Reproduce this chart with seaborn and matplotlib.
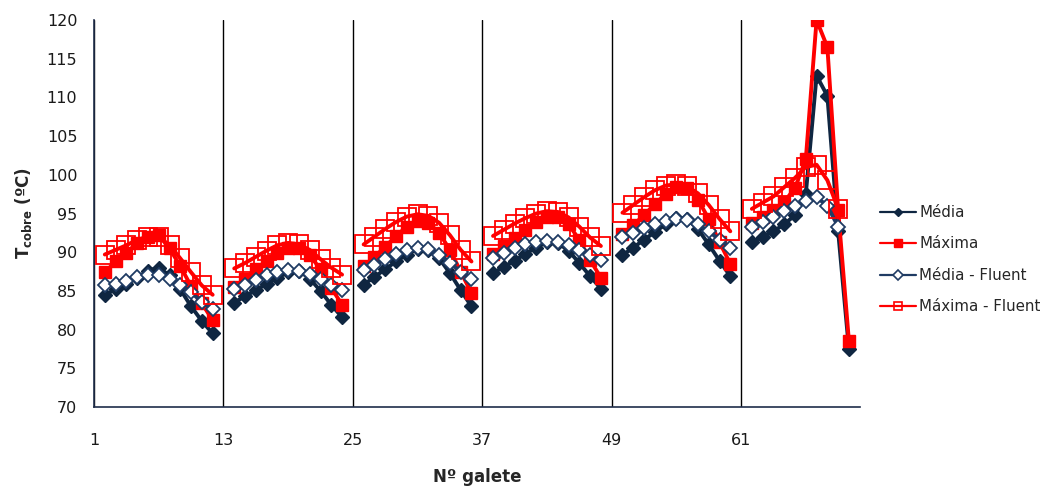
import matplotlib
matplotlib.use("Agg")
import matplotlib.pyplot as plt
from matplotlib.lines import Line2D
import pandas as pd
import seaborn as sns

# galete positions (each group of 12 galetes)
galete_exp = (list(range(2, 13)) + list(range(14, 25)) + list(range(26, 37))
              + list(range(38, 49)) + list(range(50, 61)) + list(range(62, 72)))
galete_fluent = (list(range(2, 13)) + list(range(14, 25)) + list(range(26, 37))
                 + list(range(38, 49)) + list(range(50, 61)) + list(range(62, 71)))

media = [84.5, 85.2, 85.9, 86.7, 87.6, 88.0, 87.0, 85.2, 83.0, 81.1, 79.5,
         83.5, 84.3, 85.1, 85.9, 86.7, 87.4, 87.6, 86.6, 85.0, 83.2, 81.6,
         85.8, 86.8, 87.8, 88.8, 89.7, 90.4, 90.3, 89.2, 87.3, 85.1, 83.0,
         87.3, 88.1, 88.9, 89.8, 90.6, 91.3, 91.2, 90.2, 88.6, 86.9, 85.3,
         89.6, 90.6, 91.6, 92.6, 93.6, 94.4, 94.3, 93.0, 91.0, 88.9, 86.9,
         91.3, 92.0, 92.7, 93.6, 94.8, 97.5, 112.8, 110.2, 92.7, 77.5]
maxima = [87.4, 88.8, 89.9, 91.2, 92.0, 92.2, 90.5, 88.2, 85.6, 83.4, 81.2,
          85.5, 86.6, 87.8, 88.9, 89.9, 90.6, 90.6, 89.6, 87.8, 85.4, 83.2,
          88.2, 89.4, 90.7, 92.1, 93.3, 94.0, 93.8, 92.5, 90.3, 87.5, 84.7,
          89.8, 90.8, 91.8, 92.9, 93.9, 94.6, 94.6, 93.6, 91.6, 89.0, 86.7,
          92.3, 93.5, 94.8, 96.2, 97.5, 98.4, 98.3, 96.8, 94.3, 91.3, 88.5,
          93.8, 94.6, 95.5, 96.5, 98.3, 102.0, 120.0, 116.5, 95.5, 78.5]
media_fluent = [85.7, 85.9, 86.3, 86.8, 87.1, 87.1, 86.6, 85.8, 84.8, 83.6, 82.6,
                85.2, 85.8, 86.4, 87.0, 87.4, 87.7, 87.6, 87.2, 86.5, 85.7, 85.1,
                87.7, 88.4, 89.1, 89.8, 90.3, 90.6, 90.4, 89.7, 88.6, 87.5, 86.6,
                89.3, 89.9, 90.5, 91.0, 91.3, 91.5, 91.3, 90.9, 90.3, 89.6, 89.0,
                91.9, 92.5, 93.1, 93.6, 94.0, 94.3, 94.2, 93.6, 92.7, 91.6, 90.6,
                93.2, 93.9, 94.6, 95.3, 96.0, 96.6, 97.1, 96.0, 93.3]
maxima_fluent = [89.7, 90.3, 90.9, 91.6, 92.0, 92.0, 90.9, 89.2, 87.4, 85.7, 84.5,
                 87.9, 88.6, 89.4, 90.2, 90.9, 91.2, 91.0, 90.3, 89.1, 88.0, 87.1,
                 91.0, 92.0, 93.0, 93.9, 94.6, 94.9, 94.7, 93.8, 92.2, 90.3, 88.8,
                 92.1, 92.9, 93.7, 94.4, 95.0, 95.3, 95.2, 94.5, 93.3, 91.9, 90.8,
                 95.1, 96.1, 97.1, 98.0, 98.6, 98.8, 98.5, 97.6, 96.1, 94.3, 92.7,
                 95.6, 96.4, 97.2, 98.4, 99.6, 101.0, 101.3, 99.3, 95.6]

x_ticks = [1, 13, 25, 37, 49, 61]

NAVY = "#0f2641"
NAVY2 = "#1f3b63"
RED = "#ff0000"

sns.set_style("white")
plt.rcParams["font.family"] = ["DejaVu Sans"]

fig = plt.figure(figsize=(10.46, 4.88), dpi=100)
ax = fig.add_axes([0.0899, 0.166, 0.732, 0.793])


def frame(x, y):
    df = pd.DataFrame({"galete": x, "T": y})
    df["grupo"] = (df["galete"] - 1) // 12
    return df


series = [
    (frame(galete_exp, media), dict(color=NAVY, marker="D", ms=7, mfc=NAVY, mec=NAVY, mew=1)),
    (frame(galete_exp, maxima), dict(color=RED, marker="s", ms=8.5, mfc=RED, mec=RED, mew=1)),
    (frame(galete_fluent, media_fluent), dict(color=NAVY2, marker="D", ms=7.5, mfc="white", mec=NAVY2, mew=1.3)),
    (frame(galete_fluent, maxima_fluent), dict(color=RED, marker="s", ms=12.5, mfc="none", mec=RED, mew=1.3)),
]
for df, st in series:
    sns.lineplot(data=df, x="galete", y="T", units="grupo", estimator=None,
                 lw=2.8, legend=False, ax=ax, **st)

ax.set_xlim(1, 72)
ax.set_ylim(70, 120)
ax.set_xticks(x_ticks)
ax.set_yticks(range(70, 121, 5))
ax.grid(axis="x", color="black", lw=1)
ax.grid(axis="y", visible=False)
ax.set_axisbelow(True)
ax.tick_params(axis="both", length=0, labelsize=11.5, colors="#1a1a1a")
ax.tick_params(axis="x", pad=19)
ax.tick_params(axis="y", pad=12)
for s in ["top", "right"]:
    ax.spines[s].set_visible(False)
for s in ["left", "bottom"]:
    ax.spines[s].set_color("#1f2d4a")
    ax.spines[s].set_linewidth(1.2)

ax.set_xlabel("Nº galete", fontsize=12, fontweight="bold", labelpad=14)
ax.set_ylabel(r"$\mathbf{T_{cobre}}$ (ºC)", fontsize=12, fontweight="bold", labelpad=9)

handles = [
    Line2D([], [], color=NAVY, lw=1.6, marker="D", ms=4, mfc=NAVY, mec=NAVY),
    Line2D([], [], color=RED, lw=1.6, marker="s", ms=6, mfc=RED, mec=RED),
    Line2D([], [], color=NAVY2, lw=1.6, marker="D", ms=5, mfc="white", mec=NAVY2, mew=1.2),
    Line2D([], [], color=RED, lw=1.6, marker="s", ms=6, mfc="none", mec=RED, mew=1.2),
]
labels = ["Média", "Máxima", "Média - Fluent", "Máxima - Fluent"]
fig.legend(handles, labels, loc="center left", bbox_to_anchor=(0.841, 0.468),
           frameon=False, fontsize=10.8, handlelength=2.4, labelspacing=1.1,
           handletextpad=0.25, borderpad=0, borderaxespad=0)

fig.savefig("out.png", dpi=100)
